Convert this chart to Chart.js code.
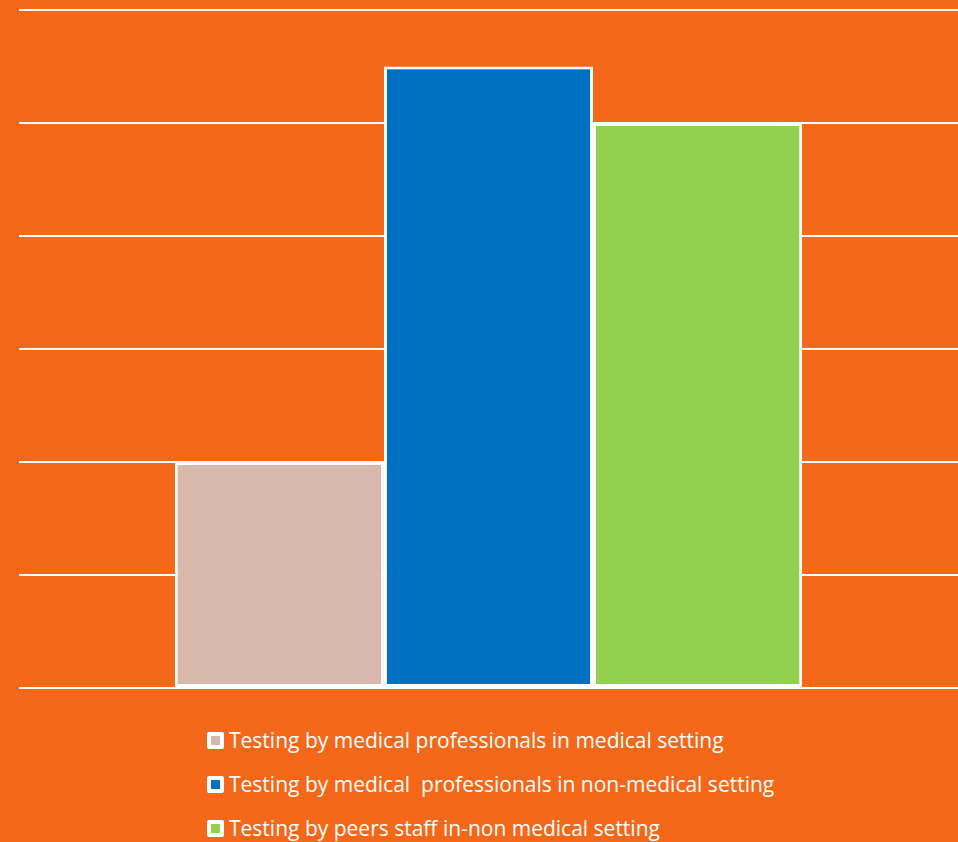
<!DOCTYPE html>
<html>
<head>
<meta charset="utf-8">
<script src="https://cdn.jsdelivr.net/npm/chart.js@4/dist/chart.umd.min.js"></script>
<style>
  html, body { margin: 0; padding: 0; background: #F5681A; }
  #wrap { position: relative; width: 958px; height: 842px; overflow: hidden; }
  #chart { position: absolute; left: 0; top: 0; }
  #legend { position: absolute; left: 207px; top: 725px; font-family: "Open Sans", Lato, sans-serif; font-size: 21px; color: #fff; }
  .item { height: 44px; display: flex; align-items: flex-start; }
  .box { width: 9px; height: 9px; border: 4px solid #fff; border-radius: 2px; margin-top: 7px; margin-right: 5px; }
  .lbl { line-height: 30px; white-space: pre; }
</style>
</head>
<body>
<div id="wrap">
  <canvas id="chart" width="958" height="700"></canvas>
  <div id="legend"></div>
</div>
<script>
/*Dados do grafico*/
const categories = ['']
const seriesNames = [
    'Testing by medical professionals in medical setting',
    'Testing by medical  professionals in non-medical setting',
    'Testing by peers staff in-non medical setting'
]
const medicalSetting = [2]
const nonMedicalSetting = [5.5]
const peersSetting = [5]
const colors = ['#D8B8AA', '#0070C0', '#92D050']

let ctx = document.querySelector('#chart').getContext('2d')

const config = {
    type: 'bar',
    data: {
        labels: categories,
        datasets: [
            { label: seriesNames[0], data: medicalSetting, backgroundColor: colors[0] },
            { label: seriesNames[1], data: nonMedicalSetting, backgroundColor: colors[1] },
            { label: seriesNames[2], data: peersSetting, backgroundColor: colors[2] }
        ].map(d => Object.assign(d, {
            borderColor: '#ffffff',
            borderWidth: 3,
            borderSkipped: false,
            categoryPercentage: 0.668,
            barPercentage: 1
        }))
    },
    options: {
        responsive: false,
        animation: false,
        layout: { padding: { left: 19, top: 10, right: 0, bottom: 12 } },
        plugins: {
            legend: { display: false },
            tooltip: { enabled: false }
        },
        scales: {
            x: { display: false },
            y: {
                min: 0,
                max: 6,
                ticks: { stepSize: 1, display: false },
                border: { display: false },
                grid: { color: '#ffffff', lineWidth: 2, drawTicks: false }
            }
        }
    }
}

var myChart = new Chart(ctx, config)

// legenda em HTML, empilhada e alinhada a esquerda
const legend = document.querySelector('#legend')
myChart.data.datasets.forEach(ds => {
    const item = document.createElement('div')
    item.className = 'item'
    const box = document.createElement('div')
    box.className = 'box'
    box.style.background = ds.backgroundColor
    const lbl = document.createElement('span')
    lbl.className = 'lbl'
    lbl.textContent = ds.label
    item.appendChild(box)
    item.appendChild(lbl)
    legend.appendChild(item)
})
</script>
</body>
</html>
